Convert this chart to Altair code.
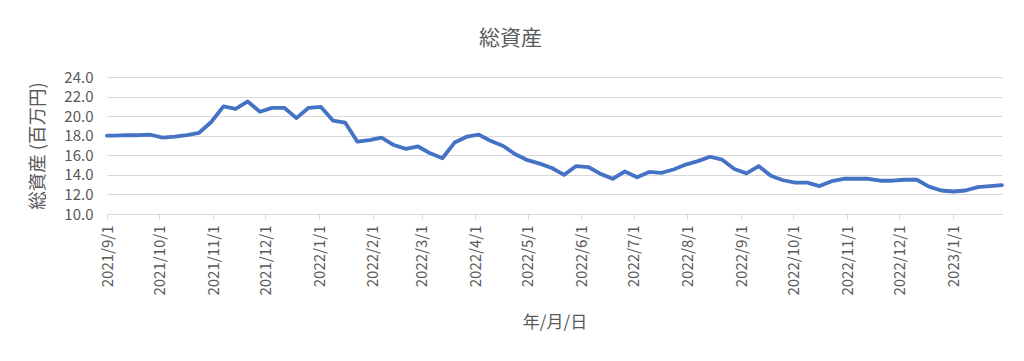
import altair as alt
import pandas as pd

# weekly observation dates (first point on 2021/9/1, then every Sunday)
dates = ["2021-09-01"] + [d.strftime("%Y-%m-%d") for d in pd.date_range("2021-09-05", "2023-01-29", freq="7D")]

values = [
    18.0, 18.0, 18.05, 18.05, 18.1, 17.8, 17.9, 18.05, 18.3, 19.4,
    21.0, 20.75, 21.5, 20.45, 20.85, 20.85, 19.8, 20.85, 20.95, 19.55,
    19.35, 17.4, 17.55, 17.8, 17.05, 16.65, 16.9, 16.2, 15.7, 17.3,
    17.9, 18.1, 17.45, 16.95, 16.1, 15.5, 15.15, 14.7, 14.0, 14.9,
    14.8, 14.1, 13.6, 14.35, 13.75, 14.3, 14.2, 14.55, 15.05, 15.4,
    15.85, 15.55, 14.6, 14.15, 14.9, 13.9, 13.45, 13.2, 13.2, 12.85,
    13.35, 13.6, 13.6, 13.6, 13.4, 13.4, 13.5, 13.5, 12.8, 12.4,
    12.3, 12.4, 12.75, 12.85, 12.95,
]

month_ticks = ["2021-09-01", "2021-10-01", "2021-11-01", "2021-12-01", "2022-01-01",
               "2022-02-01", "2022-03-01", "2022-04-01", "2022-05-01", "2022-06-01",
               "2022-07-01", "2022-08-01", "2022-09-01", "2022-10-01", "2022-11-01",
               "2022-12-01", "2023-01-01"]
x_domain = ["2021-09-01", "2023-01-29"]
y_ticks = [10, 12, 14, 16, 18, 20, 22, 24]

title_text = "総資産"
y_title = "総資産 (百万円)"
x_title = "年/月/日"

def ms(s):
    return int(pd.Timestamp(s, tz="UTC").timestamp() * 1000)

df = pd.DataFrame({"date": dates, "value": values})

FONT = "Noto Sans CJK JP"
GREY = "#595959"

chart = alt.Chart(df).mark_line(
    color="#4472C4", strokeWidth=3.8, strokeJoin="round", strokeCap="round"
).encode(
    x=alt.X(
        "date:T",
        scale=alt.Scale(type="utc", domain=[ms(d) for d in x_domain], nice=False),
        axis=alt.Axis(
            values=[ms(d) for d in month_ticks],
            labelExpr="utcFormat(datum.value, '%Y/%-m/%-d')",
            labelAngle=-90,
            labelAlign="right",
            labelBaseline="middle",
            labelFont=FONT,
            labelFontSize=15,
            labelColor=GREY,
            labelPadding=6,
            labelOverlap=False,
            labelFlush=False,
            tickSize=5,
            tickColor="#d9d9d9",
            domainColor="#d9d9d9",
            domainWidth=1,
            grid=False,
            title=x_title,
            titleFont=FONT,
            titleFontSize=17,
            titleFontWeight="normal",
            titleColor=GREY,
            titlePadding=19,
        ),
    ),
    y=alt.Y(
        "value:Q",
        scale=alt.Scale(domain=[10, 24], nice=False, zero=False),
        axis=alt.Axis(
            values=y_ticks,
            format=".1f",
            labelFont=FONT,
            labelFontSize=15,
            labelColor=GREY,
            labelPadding=14,
            ticks=False,
            domain=False,
            grid=True,
            gridColor="#d9d9d9",
            gridWidth=1,
            title=y_title,
            titleFont=FONT,
            titleFontSize=18.5,
            titleFontWeight="normal",
            titleColor=GREY,
            titlePadding=16,
        ),
    ),
).properties(
    width=895,
    height=137,
    title=alt.TitleParams(
        text=title_text, font=FONT, fontSize=21, fontWeight="normal",
        color=GREY, anchor="middle", dx=-44, offset=21,
    ),
    autosize=alt.AutoSizeParams(type="none"),
    padding={"left": 99, "top": 69, "right": 14, "bottom": 135},
).configure_view(stroke=None)

chart.save("out.html", embed_options={"renderer": "svg", "actions": False})
